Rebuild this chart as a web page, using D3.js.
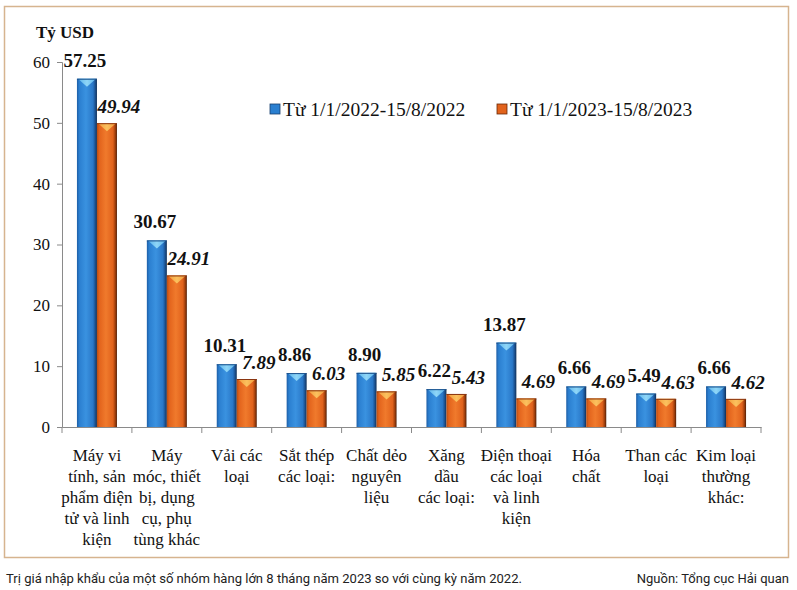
<!DOCTYPE html>
<html><head><meta charset="utf-8">
<script src="https://cdn.jsdelivr.net/npm/d3@7"></script>
<style>body{margin:0;background:#fff}svg{display:block}</style>
</head><body>
<svg id="c" width="797" height="590"></svg>
<script>
const categories = [
  ["Máy vi","tính, sản","phẩm điện","tử và linh","kiện"],
  ["Máy","móc, thiết","bị, dụng","cụ, phụ","tùng khác"],
  ["Vải các","loại"],
  ["Sắt thép","các loại:"],
  ["Chất dẻo","nguyên","liệu"],
  ["Xăng","dầu","các loại:"],
  ["Điện thoại","các loại","và linh","kiện"],
  ["Hóa","chất"],
  ["Than các","loại"],
  ["Kim loại","thường","khác:"]
];
const series2022 = [57.25, 30.67, 10.31, 8.86, 8.90, 6.22, 13.87, 6.66, 5.49, 6.66];
const series2023 = [49.94, 24.91, 7.89, 6.03, 5.85, 5.43, 4.69, 4.69, 4.63, 4.62];
const seriesNames = ["Từ 1/1/2022-15/8/2022", "Từ 1/1/2023-15/8/2023"];
const yTicks = [0, 10, 20, 30, 40, 50, 60];
const unitLabel = "Tỷ USD";
const caption = "Trị giá nhập khẩu của một số nhóm hàng lớn 8 tháng năm 2023 so với cùng kỳ năm 2022.";
const source = "Nguồn: Tổng cục Hải quan";

(function(){
const svg = d3.select("#c");
const serif = "Liberation Serif";
const sans = "Roboto";
const pL = 62, pR = 761, pT = 62, pB = 427;

svg.append("rect").attr("x",4.5).attr("y",6.5).attr("width",784).attr("height",551)
  .attr("fill","#fff").attr("stroke","#d6b48f").attr("stroke-width",1.5);

const x = d3.scaleBand().domain(d3.range(categories.length)).range([pL, pR]);
const xs = d3.scaleBand().domain([0,1]).range([0, 40]);
const y = d3.scaleLinear().domain([0, 60]).range([pB, pT]);

const defs = svg.append("defs");
function grad(id, stops){
  const g = defs.append("linearGradient").attr("id", id).attr("x1","0").attr("x2","1").attr("y1","0").attr("y2","0");
  stops.forEach(s => g.append("stop").attr("offset", s[0]).attr("stop-color", s[1]));
}
grad("gBlue", [[0,"#1d5ea6"],[0.12,"#2b7fd0"],[0.45,"#3a92e0"],[0.8,"#2a78c8"],[0.92,"#1b4f8c"],[1,"#0f2e55"]]);
grad("gOrange", [[0,"#b94c12"],[0.12,"#e2631c"],[0.45,"#f07a2c"],[0.8,"#e0621c"],[0.92,"#9c3d0c"],[1,"#4f1e05"]]);
grad("gBlueTop", [[0,"#5ab3ec"],[0.5,"#8fd6f7"],[1,"#5ab3ec"]]);
grad("gOrangeTop", [[0,"#f29a3a"],[0.5,"#fbc15e"],[1,"#f29a3a"]]);

const yAxis = d3.axisLeft(y).tickValues(yTicks).tickSize(5).tickPadding(7);
const gy = svg.append("g").attr("transform",`translate(${pL},0)`).call(yAxis);
gy.attr("font-family", null).attr("font-size", null);
gy.select(".domain").attr("stroke","#8a8a8a");
gy.selectAll(".tick line").attr("stroke","#8a8a8a");
gy.selectAll(".tick text").style("font-family",serif).style("font-size","17px").attr("fill","#111");

const xAxis = d3.axisBottom(x).tickSize(0).tickFormat("");
const gx = svg.append("g").attr("transform",`translate(0,${pB})`).call(xAxis);
gx.select(".domain").attr("stroke","#8a8a8a");
svg.append("g").selectAll("line").data(d3.range(categories.length+1)).join("line")
  .attr("x1", i => i < categories.length ? x(i) : x(categories.length-1)+x.bandwidth())
  .attr("x2", i => i < categories.length ? x(i) : x(categories.length-1)+x.bandwidth())
  .attr("y1", pB).attr("y2", pB+6).attr("stroke","#8a8a8a");

const seriesData = [series2022, series2023];
const fills = ["url(#gBlue)","url(#gOrange)"];
const topFills = ["url(#gBlueTop)","url(#gOrangeTop)"];
const groupOffset = (x.bandwidth() - 40)/2;
seriesData.forEach((vals, s) => {
  const g = svg.append("g");
  const bx = i => x(i) + groupOffset + xs(s);
  const w = xs.bandwidth();
  g.selectAll("rect").data(vals).join("rect")
    .attr("x",(d,i)=>bx(i)).attr("y",d=>y(d)).attr("width",w).attr("height",d=>pB-y(d))
    .attr("fill",fills[s]);
  g.selectAll("path").data(vals).join("path")
    .attr("d",(d,i)=>{const x0=bx(i), y0=y(d); return `M${x0+1},${y0}L${x0+w-1},${y0}L${x0+w/2},${y0+8}Z`;})
    .attr("fill",topFills[s]);
  g.selectAll("line.tp").data(vals).join("line").attr("class","tp")
    .attr("x1",(d,i)=>bx(i)).attr("x2",(d,i)=>bx(i)+w).attr("y1",d=>y(d)+0.5).attr("y2",d=>y(d)+0.5)
    .attr("stroke", s===0 ? "#1a4f8a" : "#8a3510").attr("stroke-width",1);
  g.selectAll("text").data(vals).join("text")
    .attr("x",(d,i)=>bx(i)+w/2 + (s===0 ? -2 : 12))
    .attr("y",d=>y(d) - (s===0 ? 12 : 10))
    .attr("text-anchor","middle")
    .style("font-family",serif).style("font-size","19px").style("font-weight","bold")
    .style("font-style", s===0 ? "normal" : "italic").attr("fill","#111")
    .text(d=>d.toFixed(2));
});

const cl = svg.append("g");
categories.forEach((lines,i) => {
  const t = cl.append("text").attr("text-anchor","middle")
    .style("font-family",serif).style("font-size","17px").attr("fill","#111");
  lines.forEach((ln,j) => t.append("tspan").attr("x", x(i)+x.bandwidth()/2).attr("y", 461 + j*21).text(ln));
});

svg.append("text").attr("x",36).attr("y",38).style("font-family",serif).style("font-size","17px")
  .style("font-weight","bold").attr("fill","#111").text(unitLabel);

const legendX = [270, 497];
seriesNames.forEach((n,s) => {
  svg.append("rect").attr("x",legendX[s]).attr("y",104).attr("width",10).attr("height",10)
    .attr("fill", s===0 ? "#2a7fd0" : "#e2631c").attr("stroke", s===0 ? "#173f6e" : "#6a2a08").attr("stroke-width",0.8);
  svg.append("text").attr("x",legendX[s]+13).attr("y",116).style("font-family",serif).style("font-size","19.5px")
    .attr("fill","#111").text(n);
});

svg.append("text").attr("x",6).attr("y",583).style("font-family",sans)
  .style("font-size","13px").attr("fill","#222").attr("textLength",516).attr("lengthAdjust","spacingAndGlyphs").text(caption);
svg.append("text").attr("x",789).attr("y",583).attr("text-anchor","end").style("font-family",sans)
  .style("font-size","13px").attr("fill","#222").text(source);
})();
</script>
</body></html>
